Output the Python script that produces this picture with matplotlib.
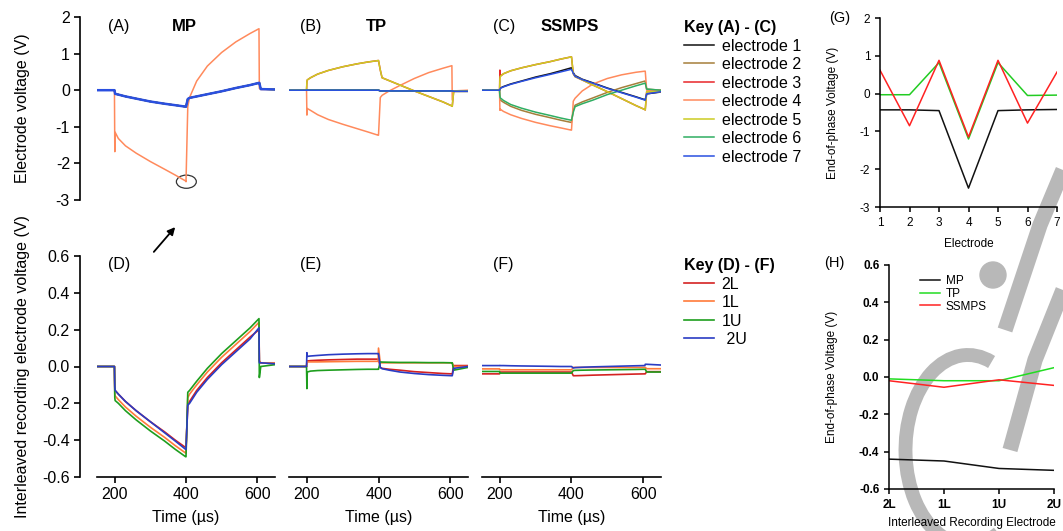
import matplotlib
matplotlib.use("Agg")
import matplotlib.pyplot as plt
from matplotlib.patches import Ellipse, Circle, FancyArrowPatch, Arc
from matplotlib.lines import Line2D

plt.rcParams['font.family'] = ['Liberation Sans', 'DejaVu Sans']
plt.rcParams['axes.unicode_minus'] = False

# time base (µs) shared by all traces
t_us = [150, 199, 200, 201, 210, 230, 260, 300, 340, 370, 399, 400, 405,
        410, 430, 460, 500, 540, 580, 605, 606, 610, 650]

# (A) MP, electrode voltages (V)
mp_e4 = [0, 0, -1.68, -1.15, -1.32, -1.52, -1.72, -1.95, -2.16, -2.32, -2.48, -2.5, -0.45,
         -0.2, 0.25, 0.66, 1.03, 1.32, 1.55, 1.68, 0.05, 0.02, 0.02]
mp_rest = [0, 0, -0.05, -0.1, -0.12, -0.17, -0.23, -0.31, -0.37, -0.41, -0.45, -0.45, -0.24,
           -0.21, -0.17, -0.11, -0.03, 0.06, 0.14, 0.2, 0.2, 0.03, 0.02]

# (B) TP
tp_e4 = [0, 0, -0.68, -0.5, -0.55, -0.67, -0.8, -0.93, -1.05, -1.14, -1.23, -1.23, -0.2,
         -0.14, -0.02, 0.13, 0.32, 0.48, 0.6, 0.67, -0.27, -0.02, 0.0]
tp_e35 = [0, 0, 0.23, 0.28, 0.34, 0.44, 0.54, 0.64, 0.72, 0.77, 0.81, 0.81, 0.55,
          0.34, 0.26, 0.14, -0.02, -0.17, -0.32, -0.43, -0.44, -0.03, -0.03]
tp_rest = [0, 0, 0.01, 0, 0, 0, 0, 0, 0, 0, 0, 0, -0.02,
           -0.02, -0.02, -0.02, -0.02, -0.02, -0.02, -0.02, -0.02, -0.03, -0.03]

# (C) SSMPS
ss_e1 = [0, 0, 0.03, 0.06, 0.1, 0.17, 0.25, 0.36, 0.45, 0.53, 0.61, 0.61, 0.48,
         0.4, 0.3, 0.2, 0.06, -0.06, -0.18, -0.26, -0.26, -0.1, -0.05]
ss_e2 = [0, 0, -0.2, -0.27, -0.33, -0.44, -0.55, -0.66, -0.75, -0.82, -0.88, -0.88, -0.55,
         -0.41, -0.32, -0.21, -0.06, 0.07, 0.18, 0.25, 0.25, 0.03, 0.0]
ss_e3 = [0, 0, 0.55, 0.38, 0.45, 0.53, 0.61, 0.7, 0.78, 0.85, 0.91, 0.91, 0.45,
         0.37, 0.28, 0.14, -0.04, -0.23, -0.42, -0.53, -0.54, -0.04, -0.04]
ss_e4 = [0, 0, -0.55, -0.52, -0.58, -0.67, -0.77, -0.88, -0.97, -1.03, -1.09, -1.09, -0.3,
         -0.22, -0.02, 0.17, 0.32, 0.42, 0.49, 0.52, 0.52, 0.0, 0.0]
ss_e5 = [0, 0, 0.3, 0.38, 0.45, 0.53, 0.61, 0.7, 0.78, 0.85, 0.91, 0.91, 0.45,
         0.37, 0.28, 0.14, -0.04, -0.23, -0.42, -0.53, -0.54, -0.04, -0.04]
ss_e6 = [0, 0, -0.15, -0.21, -0.28, -0.39, -0.49, -0.6, -0.69, -0.76, -0.82, -0.82, -0.6,
         -0.45, -0.37, -0.27, -0.12, 0.0, 0.12, 0.19, 0.19, 0.03, 0.0]
ss_e7 = [0, 0, 0.02, 0.05, 0.09, 0.16, 0.24, 0.34, 0.43, 0.5, 0.57, 0.57, 0.46,
         0.38, 0.29, 0.19, 0.05, -0.07, -0.19, -0.27, -0.27, -0.1, -0.04]

# (D) MP, interleaved recording electrodes (V)
d_2L = [0, 0, -0.12, -0.13, -0.15, -0.19, -0.24, -0.3, -0.355, -0.4, -0.44, -0.44, -0.21,
        -0.19, -0.13, -0.06, 0.02, 0.09, 0.16, 0.2, 0.03, 0.02, 0.015]
d_1L = [0, 0, -0.15, -0.16, -0.18, -0.22, -0.27, -0.33, -0.385, -0.43, -0.47, -0.47, -0.17,
        -0.15, -0.1, -0.03, 0.05, 0.12, 0.19, 0.24, 0.03, 0.02, 0.02]
d_1U = [0, 0, -0.17, -0.185, -0.2, -0.24, -0.29, -0.35, -0.405, -0.45, -0.49, -0.49, -0.14,
        -0.13, -0.08, -0.01, 0.07, 0.14, 0.21, 0.26, -0.06, 0.0, 0.01]
d_2U = [0, 0, -0.11, -0.13, -0.15, -0.19, -0.24, -0.3, -0.36, -0.405, -0.45, -0.45, -0.21,
        -0.2, -0.14, -0.07, 0.01, 0.08, 0.15, 0.21, 0.02, 0.02, 0.015]

# (E) TP
e_2L = [0, 0, 0.03, 0.03, 0.032, 0.034, 0.036, 0.038, 0.04, 0.04, 0.04, 0.04, -0.005,
        -0.01, -0.015, -0.02, -0.028, -0.033, -0.038, -0.04, -0.04, 0.005, 0.005]
e_1L = [0, 0, 0.02, 0.025, 0.025, 0.025, 0.026, 0.027, 0.028, 0.028, 0.028, 0.1, 0.02,
        0.02, 0.02, 0.02, 0.02, 0.02, 0.02, 0.02, 0.02, 0.0, 0.0]
e_1U = [0, 0, -0.12, -0.03, -0.025, -0.022, -0.02, -0.018, -0.016, -0.015, -0.015, -0.015, 0.025,
        0.024, 0.023, 0.022, 0.022, 0.021, 0.021, 0.02, 0.02, -0.02, -0.005]
e_2U = [0, 0, 0.075, 0.055, 0.057, 0.06, 0.064, 0.067, 0.069, 0.07, 0.07, 0.07, -0.005,
        -0.012, -0.02, -0.03, -0.038, -0.044, -0.048, -0.05, -0.05, -0.01, 0.0]

# (F) SSMPS
f_2L = [-0.04, -0.04, -0.03, -0.03, -0.03, -0.03, -0.03, -0.03, -0.03, -0.03, -0.03, -0.03, -0.05,
        -0.05, -0.049, -0.047, -0.045, -0.043, -0.041, -0.04, -0.04, -0.028, -0.028]
f_1L = [-0.013, -0.013, -0.018, -0.018, -0.018, -0.018, -0.018, -0.018, -0.018, -0.018, -0.018, -0.018, -0.005,
        -0.005, -0.005, -0.005, -0.005, -0.005, -0.005, -0.005, -0.005, -0.012, -0.012]
f_1U = [-0.027, -0.027, -0.036, -0.036, -0.036, -0.036, -0.036, -0.036, -0.036, -0.036, -0.036, -0.036, -0.022,
        -0.021, -0.02, -0.019, -0.018, -0.017, -0.016, -0.015, -0.015, -0.03, -0.03]
f_2U = [0.005, 0.005, 0.006, 0.005, 0.005, 0.004, 0.003, 0.002, 0.001, 0.0, 0.0, 0.0, -0.008,
        -0.006, -0.004, -0.002, 0.0, 0.002, 0.004, 0.005, 0.012, 0.012, 0.008]

# (G) end-of-phase voltage per electrode
electrodes = [1, 2, 3, 4, 5, 6, 7]
g_mp = [-0.43, -0.43, -0.45, -2.5, -0.45, -0.43, -0.42]
g_tp = [-0.03, -0.03, 0.82, -1.2, 0.82, -0.05, -0.04]
g_ssmps = [0.62, -0.85, 0.88, -1.15, 0.88, -0.78, 0.57]

# (H) end-of-phase voltage per interleaved recording electrode
rec_labels = ['2L', '1L', '1U', '2U']
h_mp = [-0.44, -0.45, -0.49, -0.5]
h_tp = [-0.01, -0.02, -0.02, 0.05]
h_ssmps = [-0.02, -0.055, -0.015, -0.045]

elec_names = ['electrode 1', 'electrode 2', 'electrode 3', 'electrode 4',
              'electrode 5', 'electrode 6', 'electrode 7']
elec_colors = ['#111111', '#a57f3a', '#e8262a', '#ff8a5c', '#cccc22', '#2fae62', '#2a4fe0']
rec_colors = ['#d42222', '#ff7a3a', '#1e9e1e', '#2a3cc4']

W, H = 1063, 531
fig = plt.figure(figsize=(W / 100, H / 100), dpi=100)
FS = 11.5


def px_axes(x0, y0, x1, y1):
    return fig.add_axes([x0 / W, 1 - y1 / H, (x1 - x0) / W, (y1 - y0) / H])


def style_trace_axes(ax, left, bottom):
    ax.set_xlim(150, 650)
    ax.patch.set_alpha(0)
    for s in ['top', 'right']:
        ax.spines[s].set_visible(False)
    ax.spines['left'].set_visible(left)
    ax.spines['bottom'].set_visible(bottom)
    if left:
        ax.spines['left'].set_position(('outward', 12))
        ax.spines['left'].set_linewidth(1.2)
    else:
        ax.set_yticks([])
    if bottom:
        ax.spines['bottom'].set_linewidth(1.2)
        ax.set_xticks([200, 400, 600])
        ax.set_xlabel('Time (µs)', fontsize=FS)
        ax.xaxis.set_label_coords(0.5, -0.15)
    else:
        ax.set_xticks([])
    ax.tick_params(labelsize=FS, width=1.2, length=4, direction='out')


# watermark, drawn behind everything in pixel coordinates
grey = '#b8b8b8'
wm_ax = fig.add_axes([0, 0, 1, 1], zorder=-10)
wm_ax.set_xlim(0, W)
wm_ax.set_ylim(H, 0)
wm_ax.axis('off')
wm_ax.add_patch(Circle((993, 275), 13, color=grey))
wm_ax.add_patch(Arc((968, 450), 125, 190, theta1=70, theta2=285, color=grey, lw=10))
wm_ax.plot([1063, 1040, 1005], [170, 225, 330], color=grey, lw=11, solid_capstyle='butt')
wm_ax.plot([1063, 1035, 1010], [290, 360, 450], color=grey, lw=11, solid_capstyle='butt')

# top row
ax_a = px_axes(97, 17, 275, 200)
ax_b = px_axes(289, 17, 468, 200)
ax_c = px_axes(482, 17, 661, 200)
mp_series = [mp_rest, mp_rest, mp_rest, mp_e4, mp_rest, mp_rest, mp_rest]
tp_series = [tp_rest, tp_rest, tp_e35, tp_e4, tp_e35, tp_rest, tp_rest]
ss_series = [ss_e1, ss_e2, ss_e3, ss_e4, ss_e5, ss_e6, ss_e7]
handles_top = []
for ax, series in [(ax_a, mp_series), (ax_b, tp_series), (ax_c, ss_series)]:
    for i, v in enumerate(series):
        lw = 1.8 if (ax is ax_a and i == 6) else 1.1
        ln, = ax.plot(t_us, v, color=elec_colors[i], lw=lw, label=elec_names[i])
        if ax is ax_c:
            handles_top.append(ln)
    ax.set_ylim(-3, 2)
style_trace_axes(ax_a, True, False)
style_trace_axes(ax_b, False, False)
style_trace_axes(ax_c, False, False)
ax_a.set_yticks([2, 1, 0, -1, -2, -3])
ax_a.set_ylabel('Electrode voltage (V)', fontsize=FS)
ax_a.yaxis.set_label_coords(-0.375, 0.5)
ax_a.add_patch(Ellipse((401, -2.5), 56, 0.36, fill=False, ec='#333333', lw=0.9, clip_on=False))

for ax, lab, title in [(ax_a, '(A)', 'MP'), (ax_b, '(B)', 'TP'), (ax_c, '(C)', 'SSMPS')]:
    ax.text(0.06, 0.95, lab, transform=ax.transAxes, fontsize=FS, va='center', ha='left')
    ax.text(0.49, 0.95, title, transform=ax.transAxes, fontsize=12, fontweight='bold',
            va='center', ha='center')

# bottom row
ax_d = px_axes(97, 256, 275, 477)
ax_e = px_axes(289, 256, 468, 477)
ax_f = px_axes(482, 256, 661, 477)
handles_bot = []
for ax, series in [(ax_d, [d_2L, d_1L, d_1U, d_2U]), (ax_e, [e_2L, e_1L, e_1U, e_2U]),
                   (ax_f, [f_2L, f_1L, f_1U, f_2U])]:
    for i, v in enumerate(series):
        ln, = ax.plot(t_us, v, color=rec_colors[i], lw=1.2, label=rec_labels[i])
        if ax is ax_d:
            handles_bot.append(ln)
    ax.set_ylim(-0.6, 0.6)
style_trace_axes(ax_d, True, True)
style_trace_axes(ax_e, False, True)
style_trace_axes(ax_f, False, True)
ax_d.set_yticks([0.6, 0.4, 0.2, 0.0, -0.2, -0.4, -0.6])
ax_d.set_yticklabels(['0.6', '0.4', '0.2', '0.0', '-0.2', '-0.4', '-0.6'])
ax_d.set_ylabel('Interleaved recording electrode voltage (V)', fontsize=FS)
ax_d.yaxis.set_label_coords(-0.375, 0.5)
for ax, lab in [(ax_d, '(D)'), (ax_e, '(E)'), (ax_f, '(F)')]:
    ax.text(0.06, 0.96, lab, transform=ax.transAxes, fontsize=FS, va='center', ha='left')

# arrow pointing at the circled point
fig.add_artist(FancyArrowPatch((152 / W, 1 - 254 / H), (177 / W, 1 - 225 / H),
                               transform=fig.transFigure, arrowstyle='-|>',
                               mutation_scale=11, color='black', lw=1.3))

# keys
fig.legend(handles=handles_top, labels=elec_names, loc='upper left',
           bbox_to_anchor=(684 / W, 1 - 20 / H), frameon=False, fontsize=FS,
           title='Key (A) - (C)', title_fontproperties={'weight': 'bold', 'size': FS},
           alignment='left', handlelength=1.9, handletextpad=0.45, labelspacing=0.22,
           borderpad=0, borderaxespad=0)
fig.legend(handles=handles_bot, labels=['2L', '1L', '1U', ' 2U'], loc='upper left',
           bbox_to_anchor=(684 / W, 1 - 258 / H), frameon=False, fontsize=FS,
           title='Key (D) - (F)', title_fontproperties={'weight': 'bold', 'size': FS},
           alignment='left', handlelength=1.9, handletextpad=0.45, labelspacing=0.22,
           borderpad=0, borderaxespad=0)

# (G)
SF = 8.5
ax_g = px_axes(880, 18, 1057, 207)
ax_g.plot(electrodes, g_mp, color='#111111', lw=1.1)
ax_g.plot(electrodes, g_tp, color='#22cc22', lw=1.1)
ax_g.plot(electrodes, g_ssmps, color='#ff2222', lw=1.1)
ax_g.set_xlim(1, 7)
ax_g.set_ylim(-3, 2)
ax_g.set_xticks(electrodes)
ax_g.set_yticks([2, 1, 0, -1, -2, -3])
ax_g.set_xlabel('Electrode', fontsize=SF)
ax_g.xaxis.set_label_coords(0.5, -0.165)
ax_g.set_ylabel('End-of-phase Voltage (V)', fontsize=SF)
ax_g.yaxis.set_label_coords(-0.23, 0.5)
ax_g.text(-0.23, 1.0, '(G)', transform=ax_g.transAxes, fontsize=10.5, va='center', ha='center')

# (H)
ax_h = px_axes(889, 265, 1054, 489)
x_rec = range(len(rec_labels))
ax_h.plot(x_rec, h_mp, color='#111111', lw=1.1, label='MP')
ax_h.plot(x_rec, h_tp, color='#22dd22', lw=1.1, label='TP')
ax_h.plot(x_rec, h_ssmps, color='#ff2222', lw=1.1, label='SSMPS')
ax_h.set_xlim(0, 3)
ax_h.set_ylim(-0.6, 0.6)
ax_h.set_xticks(list(x_rec))
ax_h.set_xticklabels(rec_labels)
ax_h.set_yticks([0.6, 0.4, 0.2, 0.0, -0.2, -0.4, -0.6])
ax_h.set_yticklabels(['0.6', '0.4', '0.2', '0.0', '-0.2', '-0.4', '-0.6'])
ax_h.set_xlabel('Interleaved Recording Electrode', fontsize=SF)
ax_h.xaxis.set_label_coords(0.5, -0.125)
ax_h.set_ylabel('End-of-phase Voltage (V)', fontsize=SF)
ax_h.yaxis.set_label_coords(-0.31, 0.5)
ax_h.text(-0.33, 1.01, '(H)', transform=ax_h.transAxes, fontsize=10.5, va='center', ha='center')
ax_h.legend(loc='upper left', bbox_to_anchor=(0.15, 0.98), frameon=False, fontsize=SF,
            handlelength=1.7, handletextpad=0.5, labelspacing=0.05, borderpad=0)

for ax in [ax_g, ax_h]:
    ax.patch.set_alpha(0)
    for s in ['top', 'right']:
        ax.spines[s].set_visible(False)
    for s in ['left', 'bottom']:
        ax.spines[s].set_linewidth(1.1)
    ax.tick_params(labelsize=SF, width=1.1, length=3.5, direction='out')
for t in ax_h.get_yticklabels() + ax_h.get_xticklabels():
    t.set_fontweight('bold')

fig.savefig('out.png', dpi=100)
